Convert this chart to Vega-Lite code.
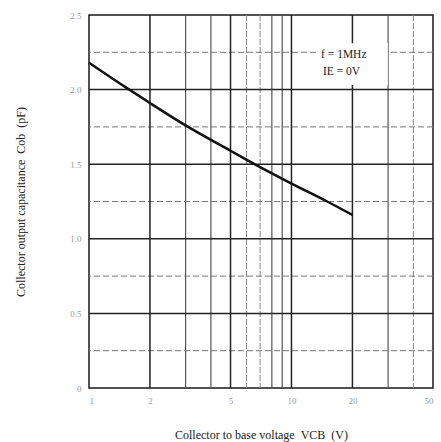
{
  "$schema": "https://vega.github.io/schema/vega-lite/v6.json",
  "autosize": "none",
  "width": 344,
  "height": 373,
  "padding": {"left": 89, "top": 15, "right": 8, "bottom": 54},
  "background": "white",
  "config": {
    "view": {"stroke": "#1a1a1a", "strokeWidth": 1.5},
    "font": "Liberation Serif"
  },
  "datasets": {
    "curve": [
      {"v": 1, "c": 2.18},
      {"v": 1.5, "c": 2.02},
      {"v": 2, "c": 1.91},
      {"v": 3, "c": 1.76},
      {"v": 5, "c": 1.59},
      {"v": 7, "c": 1.48},
      {"v": 10, "c": 1.37},
      {"v": 15, "c": 1.25},
      {"v": 20, "c": 1.16}
    ],
    "vgrid": [
      {"v": 2, "kind": "major"},
      {"v": 3, "kind": "minor"},
      {"v": 4, "kind": "minor"},
      {"v": 5, "kind": "major"},
      {"v": 6, "kind": "faint"},
      {"v": 7, "kind": "faint"},
      {"v": 8, "kind": "minor"},
      {"v": 9, "kind": "minor"},
      {"v": 10, "kind": "major"},
      {"v": 20, "kind": "major"},
      {"v": 30, "kind": "minor"},
      {"v": 40, "kind": "faint"}
    ],
    "hgrid": [
      {"c": 0.25, "kind": "minor"},
      {"c": 0.5, "kind": "major"},
      {"c": 0.75, "kind": "minor"},
      {"c": 1.0, "kind": "major"},
      {"c": 1.25, "kind": "minor"},
      {"c": 1.5, "kind": "major"},
      {"c": 1.75, "kind": "minor"},
      {"c": 2.0, "kind": "major"},
      {"c": 2.25, "kind": "minor"}
    ],
    "box": [{"v": 13.5, "v2": 29.9, "c": 2.31, "c2": 2.03}],
    "note": [
      {"v": 14.0, "c": 2.23, "t": "f = 1MHz"},
      {"v": 14.3, "c": 2.115, "t": "IE = 0V"}
    ]
  },
  "layer": [
    {
      "data": {"name": "vgrid"},
      "transform": [{"filter": "datum.kind == 'faint'"}],
      "mark": {"type": "rule", "stroke": "#888", "strokeWidth": 1, "strokeDash": [6, 2]},
      "encoding": {
        "x": {"field": "v", "type": "quantitative", "scale": {"type": "log", "domain": [1, 50], "nice": false},
          "axis": {"values": [1, 2, 5, 10, 20, 50], "labelExpr": "datum.value", "grid": false, "ticks": false, "domain": false,
            "labelColor": "#9a9a9a", "labelFontSize": 9, "labelPadding": 8,
            "title": "Collector to base voltage\u00a0\u00a0VCB\u00a0\u00a0(V)", "titleFontSize": 12, "titleFontWeight": "normal", "titleColor": "#222", "titlePadding": 24}}
      }
    },
    {
      "data": {"name": "vgrid"},
      "transform": [{"filter": "datum.kind == 'minor'"}],
      "mark": {"type": "rule", "stroke": "#555", "strokeWidth": 1.2},
      "encoding": {"x": {"field": "v", "type": "quantitative"}}
    },
    {
      "data": {"name": "hgrid"},
      "transform": [{"filter": "datum.kind == 'minor'"}],
      "mark": {"type": "rule", "stroke": "#777", "strokeWidth": 1, "strokeDash": [6, 3]},
      "encoding": {
        "y": {"field": "c", "type": "quantitative", "scale": {"domain": [0, 2.5], "nice": false},
          "axis": {"values": [0, 0.5, 1, 1.5, 2, 2.5], "labelExpr": "datum.value == 0 ? '0' : format(datum.value, '.1f')", "grid": false, "ticks": false, "domain": false,
            "labelColor": "#9a9a9a", "labelFontSize": 9, "labelPadding": 8,
            "title": "Collector output capacitance\u00a0\u00a0Cob\u00a0\u00a0(pF)", "titleFontSize": 12, "titleFontWeight": "normal", "titleColor": "#222", "titlePadding": 42}}
      }
    },
    {
      "data": {"name": "vgrid"},
      "transform": [{"filter": "datum.kind == 'major'"}],
      "mark": {"type": "rule", "stroke": "#222", "strokeWidth": 1.5},
      "encoding": {"x": {"field": "v", "type": "quantitative"}}
    },
    {
      "data": {"name": "hgrid"},
      "transform": [{"filter": "datum.kind == 'major'"}],
      "mark": {"type": "rule", "stroke": "#222", "strokeWidth": 1.5},
      "encoding": {"y": {"field": "c", "type": "quantitative"}}
    },
    {
      "data": {"name": "box"},
      "mark": {"type": "rect", "fill": "white"},
      "encoding": {
        "x": {"field": "v", "type": "quantitative"},
        "x2": {"field": "v2"},
        "y": {"field": "c", "type": "quantitative"},
        "y2": {"field": "c2"}
      }
    },
    {
      "data": {"name": "note"},
      "mark": {"type": "text", "align": "left", "baseline": "middle", "fontSize": 11.5, "color": "#222", "font": "Liberation Serif"},
      "encoding": {
        "x": {"field": "v", "type": "quantitative"},
        "y": {"field": "c", "type": "quantitative"},
        "text": {"field": "t"}
      }
    },
    {
      "data": {"name": "curve"},
      "mark": {"type": "line", "stroke": "#111", "strokeWidth": 2.5, "interpolate": "monotone"},
      "encoding": {
        "x": {"field": "v", "type": "quantitative"},
        "y": {"field": "c", "type": "quantitative"}
      }
    }
  ]
}
